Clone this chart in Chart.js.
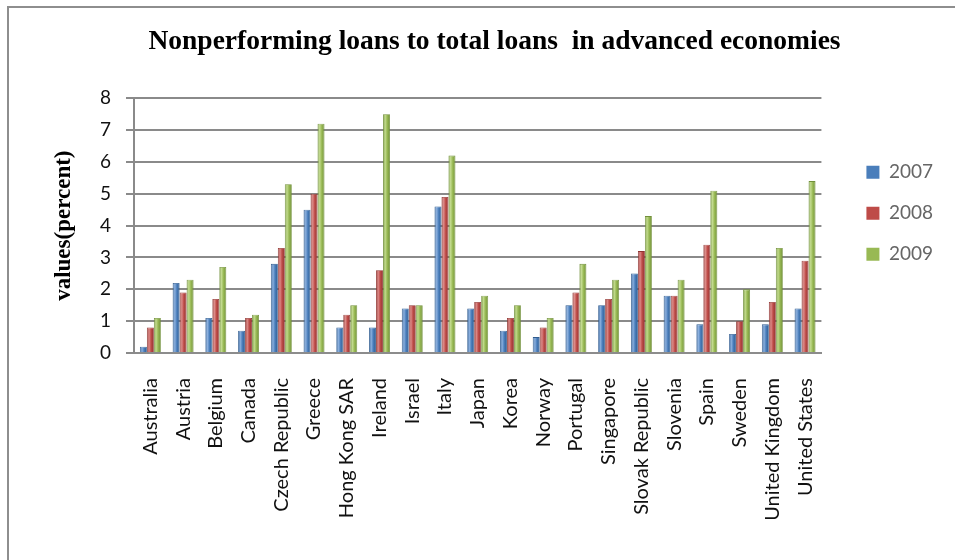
<!DOCTYPE html>
<html>
<head>
<meta charset="utf-8">
<title>Nonperforming loans to total loans in advanced economies</title>
<script src="https://cdn.jsdelivr.net/npm/chart.js@4.4.1/dist/chart.umd.min.js"></script>
<style>
  html, body { margin: 0; padding: 0; background: #fff; }
  #wrap { position: relative; width: 955px; height: 560px; }
  #frame {
    position: absolute; left: 7px; top: 6px; right: 0; bottom: 0;
    border-left: 2px solid #8e8e8e; border-top: 2px solid #8e8e8e;
    pointer-events: none;
  }
</style>
</head>
<body>
<div id="wrap">
  <canvas id="nplChart"></canvas>
  <div id="frame"></div>
</div>
<script>
// Countries along the x axis
const countries = [
    'Australia', 'Austria', 'Belgium', 'Canada', 'Czech Republic', 'Greece',
    'Hong Kong SAR', 'Ireland', 'Israel', 'Italy', 'Japan', 'Korea', 'Norway',
    'Portugal', 'Singapore', 'Slovak Republic', 'Slovenia', 'Spain', 'Sweden',
    'United Kingdom', 'United States'
];

// NPL ratio (percent) per year
const years = ['2007', '2008', '2009'];
const npl2007 = [0.2, 2.2, 1.1, 0.7, 2.8, 4.5, 0.8, 0.8, 1.4, 4.6, 1.4, 0.7, 0.5, 1.5, 1.5, 2.5, 1.8, 0.9, 0.6, 0.9, 1.4];
const npl2008 = [0.8, 1.9, 1.7, 1.1, 3.3, 5.0, 1.2, 2.6, 1.5, 4.9, 1.6, 1.1, 0.8, 1.9, 1.7, 3.2, 1.8, 3.4, 1.0, 1.6, 2.9];
const npl2009 = [1.1, 2.3, 2.7, 1.2, 5.3, 7.2, 1.5, 7.5, 1.5, 6.2, 1.8, 1.5, 1.1, 2.8, 2.3, 4.3, 2.3, 5.1, 2.0, 3.3, 5.4];

// y axis ticks 0..8
const yTicks = [0, 1, 2, 3, 4, 5, 6, 7, 8];

const catPct = 0.64;

// base / light / dark tones for each series
const tones = [
    { base: '#4a7ebb', light: '#8cb0de', dark: '#2f5b8f' },
    { base: '#be4b48', light: '#dc8c89', dark: '#8f3431' },
    { base: '#98b954', light: '#c3db8f', dark: '#71903a' }
];

// cylinder-like shading across each bar
function barFill(ctx) {
    const t = tones[ctx.datasetIndex];
    const chart = ctx.chart;
    const xs = chart.scales.x;
    if (!xs || ctx.dataIndex === undefined) return t.base;
    const cx = xs.getPixelForValue(ctx.dataIndex);
    const w = xs.width / countries.length * catPct / years.length;
    const left = cx + (ctx.datasetIndex - years.length / 2) * w;
    const g = chart.ctx.createLinearGradient(left, 0, left + w, 0);
    g.addColorStop(0, t.dark);
    g.addColorStop(0.3, t.light);
    g.addColorStop(0.6, t.base);
    g.addColorStop(1, t.dark);
    return g;
}

const seriesData = [npl2007, npl2008, npl2009];
const datasets = years.map((y, i) => ({
    label: y,
    data: seriesData[i],
    backgroundColor: barFill,
    borderColor: tones[i].dark,
    borderWidth: 0.8,
    categoryPercentage: catPct,
    barPercentage: 1.0
}));

new Chart(document.getElementById('nplChart'), {
    type: 'bar',
    data: { labels: countries, datasets: datasets },
    options: {
        responsive: true,
        maintainAspectRatio: false,
        animation: false,
        layout: { padding: { top: 8, left: 46, right: 12, bottom: 0 } },
        plugins: {
            title: {
                display: true,
                text: 'Nonperforming loans to total loans  in advanced economies',
                color: '#000',
                font: { family: 'Liberation Serif', size: 27.5, weight: 'bold' },
                padding: { top: 17, bottom: 40.3 }
            },
            legend: {
                position: 'right',
                align: 'start',
                fullSize: false,
                title: { display: true, text: '', font: { size: 12 }, padding: { top: 28, bottom: 0 } },
                labels: {
                    boxWidth: 13,
                    boxHeight: 13,
                    padding: 22,
                    color: '#222',
                    font: { family: 'Lato', size: 19 },
                    generateLabels: chart => chart.data.datasets.map((ds, i) => ({
                        text: ds.label,
                        fillStyle: tones[i].base,
                        strokeStyle: tones[i].base,
                        lineWidth: 0,
                        datasetIndex: i
                    }))
                }
            },
            tooltip: { enabled: false }
        },
        scales: {
            x: {
                grid: { display: false, drawTicks: false },
                border: { display: true, color: '#8c8c8c', width: 2 },
                ticks: {
                    autoSkip: false,
                    minRotation: 90,
                    maxRotation: 90,
                    padding: 25,
                    color: '#111',
                    font: { family: 'Lato', size: 20 }
                },
                afterFit: s => { s.height = 207; }
            },
            y: {
                min: 0,
                max: 8,
                afterBuildTicks: s => { s.ticks = yTicks.map(v => ({ value: v })); },
                grid: { color: '#8a8a8a', lineWidth: 2, tickLength: 8 },
                border: { display: true, color: '#8a8a8a', width: 2 },
                ticks: { padding: 15, color: '#111', font: { family: 'Lato', size: 19 } },
                title: {
                    display: true,
                    text: 'values(percent)',
                    color: '#000',
                    font: { family: 'Liberation Serif', size: 23, weight: 'bold' },
                    padding: { top: 4, bottom: 0 }
                },
                afterFit: s => { s.width = 88; }
            },
            // empty strip between plot and legend
            gap: {
                type: 'linear',
                position: 'right',
                display: true,
                grid: { display: false },
                border: { display: false },
                ticks: { display: false },
                afterFit: s => { s.width = 23; }
            }
        }
    }
});
</script>
</body>
</html>
